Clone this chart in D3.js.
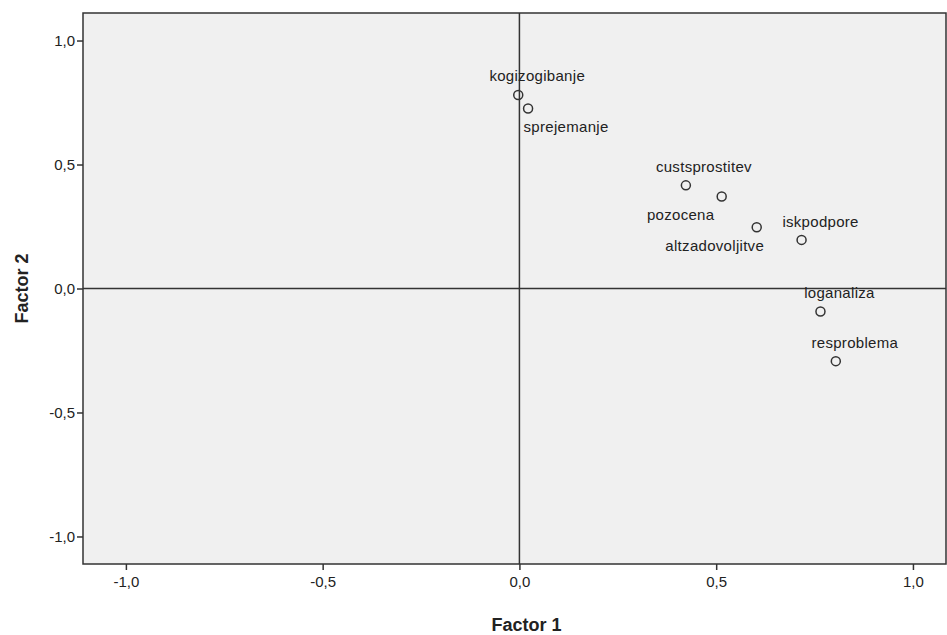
<!DOCTYPE html>
<html>
<head>
<meta charset="utf-8">
<script src="https://cdn.jsdelivr.net/npm/d3@7"></script>
<style>
  html, body { margin: 0; padding: 0; background: #ffffff; }
  svg { display: block; }
  text { font-family: Arial, "Liberation Sans", sans-serif; }
</style>
</head>
<body>
<svg id="chart" width="947" height="635"></svg>
<script>
// ---- data ----
const variables = ["kogizogibanje", "sprejemanje", "custsprostitev", "pozocena", "altzadovoljitve", "iskpodpore", "loganaliza", "resproblema"];
const factor1 = [-0.003, 0.022, 0.423, 0.514, 0.603, 0.717, 0.765, 0.804];
const factor2 = [0.780, 0.726, 0.416, 0.371, 0.247, 0.196, -0.093, -0.293];
const tickValues = [-1.0, -0.5, 0.0, 0.5, 1.0];
const tickLabels = ["-1,0", "-0,5", "0,0", "0,5", "1,0"];
const xTitle = "Factor 1";
const yTitle = "Factor 2";

// ---- layout ----
const plot = { left: 83, top: 13, right: 946, bottom: 564 };
const svg = d3.select("#chart");

const x = d3.scaleLinear().domain([-1.109, 1.084]).range([plot.left, plot.right]);
const y = d3.scaleLinear().domain([-1.111, 1.111]).range([plot.bottom, plot.top]);

// label placement (dx, dy of label centre relative to point)
const labelPlace = {
  kogizogibanje: [19, -19],
  sprejemanje: [38, 18],
  custsprostitev: [18, -19],
  pozocena: [-41, 18],
  altzadovoljitve: [-42, 18],
  iskpodpore: [19, -18],
  loganaliza: [19, -19],
  resproblema: [19, -18]
};

// plot background
svg.append("rect")
  .attr("x", plot.left).attr("y", plot.top)
  .attr("width", plot.right - plot.left).attr("height", plot.bottom - plot.top)
  .attr("fill", "#f0f0f0");

// reference lines at 0
svg.append("line")
  .attr("x1", x(0)).attr("x2", x(0))
  .attr("y1", plot.top).attr("y2", plot.bottom)
  .attr("stroke", "#333").attr("stroke-width", 1.5);
svg.append("line")
  .attr("x1", plot.left).attr("x2", plot.right)
  .attr("y1", y(0)).attr("y2", y(0))
  .attr("stroke", "#333").attr("stroke-width", 1.5);

// frame
svg.append("rect")
  .attr("x", plot.left).attr("y", plot.top)
  .attr("width", plot.right - plot.left).attr("height", plot.bottom - plot.top)
  .attr("fill", "none").attr("stroke", "#333").attr("stroke-width", 1.5);

// axes
const fmt = d => tickLabels[tickValues.indexOf(d)];
const xAxis = d3.axisBottom(x).tickValues(tickValues).tickFormat(fmt).tickSize(6).tickPadding(6);
const yAxis = d3.axisLeft(y).tickValues(tickValues).tickFormat(fmt).tickSize(6).tickPadding(2);

const gx = svg.append("g").attr("transform", `translate(0,${plot.bottom})`).call(xAxis);
const gy = svg.append("g").attr("transform", `translate(${plot.left},0)`).call(yAxis);
[gx, gy].forEach(g => {
  g.select(".domain").remove();
  g.selectAll(".tick line").attr("stroke", "#333").attr("stroke-width", 1.5);
  g.selectAll(".tick text").attr("fill", "#222").style("font-size", "15px")
    .style("font-family", "Arial, 'Liberation Sans', sans-serif");
});

// axis titles
svg.append("text")
  .attr("x", (plot.left + plot.right) / 2 + 12).attr("y", 631)
  .attr("text-anchor", "middle")
  .style("font-size", "18px").style("font-weight", "bold").attr("fill", "#222")
  .text(xTitle);
svg.append("text")
  .attr("transform", `translate(28,${y(0)}) rotate(-90)`)
  .attr("text-anchor", "middle")
  .style("font-size", "18px").style("font-weight", "bold").attr("fill", "#222")
  .text(yTitle);

// points
const data = variables.map((v, i) => ({ name: v, f1: factor1[i], f2: factor2[i] }));

svg.append("g").selectAll("circle").data(data).join("circle")
  .attr("cx", d => x(d.f1)).attr("cy", d => y(d.f2))
  .attr("r", 4.5)
  .attr("fill", "none").attr("stroke", "#333").attr("stroke-width", 1.5);

svg.append("g").selectAll("text").data(data).join("text")
  .attr("x", d => x(d.f1) + labelPlace[d.name][0])
  .attr("y", d => y(d.f2) + labelPlace[d.name][1])
  .attr("text-anchor", "middle")
  .attr("dy", "0.35em")
  .style("font-size", "15px").style("letter-spacing", "0.3px").attr("fill", "#222")
  .text(d => d.name);
</script>
</body>
</html>
